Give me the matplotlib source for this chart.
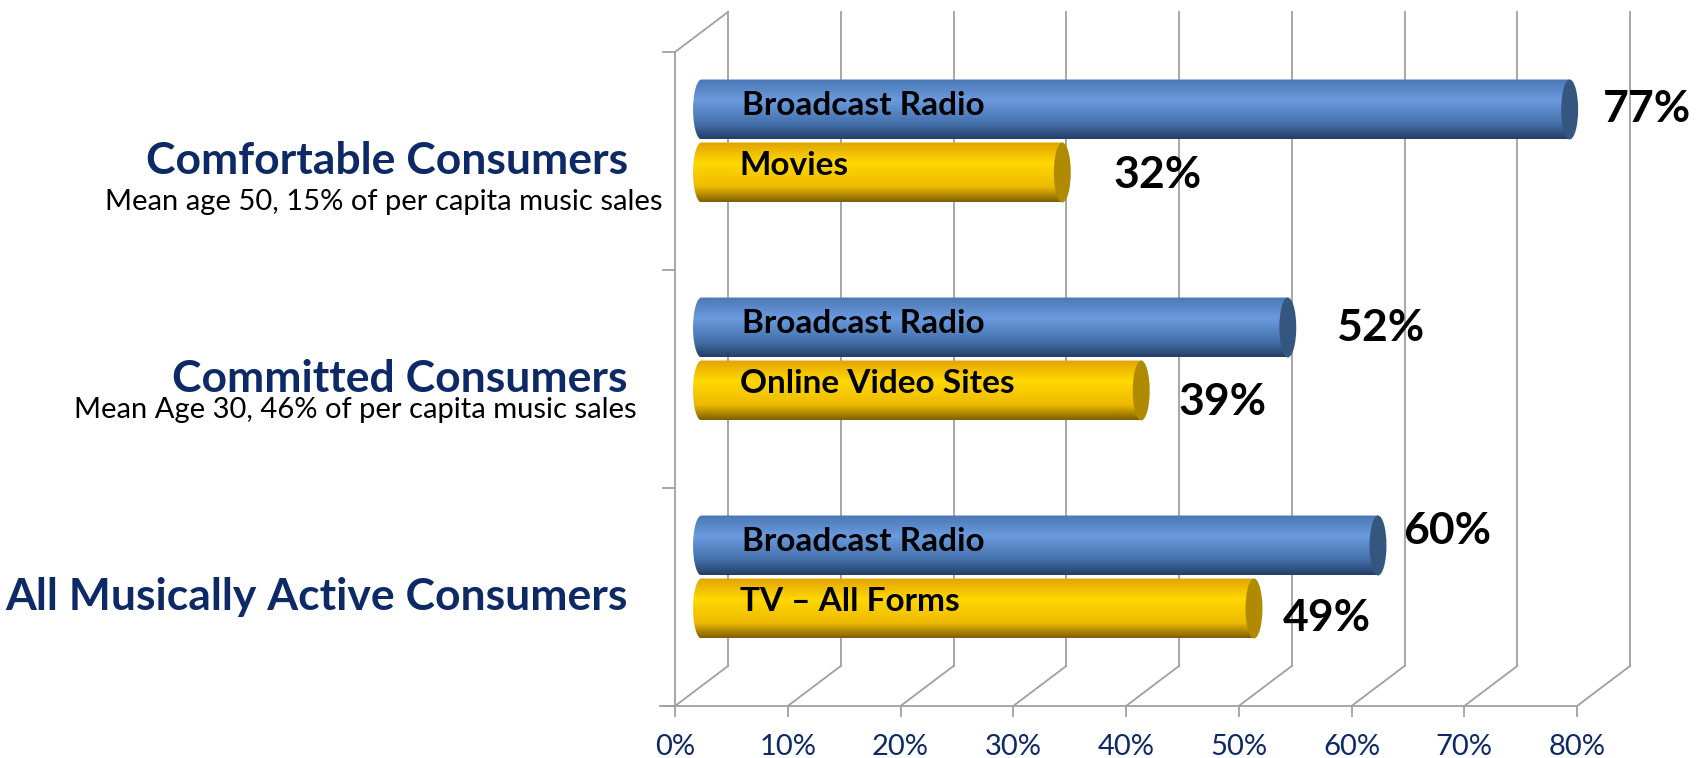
import numpy as np
import matplotlib.pyplot as plt
from matplotlib.patches import Polygon, Ellipse
from matplotlib.colors import to_rgb

# data (bottom group first)
groups = ['All Musically Active Consumers', 'Committed Consumers', 'Comfortable Consumers']
subtitles = ['', 'Mean Age 30, 46% of per capita music sales',
             'Mean age 50, 15% of per capita music sales']
radio = [60, 52, 77]
other = [49, 39, 32]
other_names = ['TV – All Forms', 'Online Video Sites', 'Movies']
ticks = [0, 10, 20, 30, 40, 50, 60, 70, 80]

plt.rcParams['font.family'] = ['Lato', 'DejaVu Sans']
navy = '#0E2A66'
grid = '#A0A0A0'

# pixel scale of the axes (px per % and px per group row)
PX = 11.275
PY = 218.0
DX = 53 / PX      # depth offset in x
DY = 40 / PY      # depth offset in y

fig = plt.figure(figsize=(16.98, 7.58), dpi=100)
ax = fig.add_axes([0, 0, 1, 1])
ax.set_xlim(-675 / PX, (1698 - 675) / PX)
ax.set_ylim(-52 / PY, 706 / PY)
ax.axis('off')

n = len(groups)
top = ticks[-1]

# walls and floor
for t in ticks:
    ax.plot([t + DX, t + DX], [DY, n + DY], color=grid, lw=1.3, zorder=1)
    ax.plot([t, t + DX], [0, DY], color=grid, lw=1.3, zorder=1)
    ax.plot([t, t], [0, -0.045], color=grid, lw=1.3, zorder=1)
    ax.text(t, -0.19, '%d%%' % t, ha='center', va='center', color=navy, fontsize=21)
ax.plot([-1.3, top], [0, 0], color=grid, lw=1.3, zorder=1)
ax.plot([0, 0], [0, n], color=grid, lw=1.3, zorder=1)
ax.plot([0, DX], [n, n + DY], color=grid, lw=1.3, zorder=1)
for i in range(n + 1):
    ax.plot([-1.1, 0], [i, i], color=grid, lw=1.3, zorder=1)


def gradient(stops, N=64):
    pos = np.array([s[0] for s in stops])
    cols = np.array([to_rgb(s[1]) for s in stops])
    p = np.linspace(0, 1, N)
    img = np.stack([np.interp(p, pos, cols[:, k]) for k in range(3)], axis=1)
    return img[:, None, :]


blue_stops = [(0, '#4B78B4'), (0.35, '#6A9BDE'), (0.75, '#4470AA'), (1, '#243F68')]
gold_stops = [(0, '#E2A400'), (0.35, '#FFD800'), (0.75, '#EDBA00'), (1, '#806000')]


def cylinder(x0, x1, yc, h, stops, cap):
    w = 1.5
    t = np.linspace(np.pi / 2, 3 * np.pi / 2, 40)
    left = np.column_stack([x0 + w / 2 * np.cos(t), yc + h / 2 * np.sin(t)])
    pts = np.vstack([[x1, yc + h / 2], left, [x1, yc - h / 2]])
    clip = Polygon(pts, closed=True, transform=ax.transData)
    im = ax.imshow(gradient(stops), extent=[x0 - w / 2, x1, yc - h / 2, yc + h / 2],
                   aspect='auto', origin='upper', interpolation='bilinear', zorder=3)
    im.set_clip_path(clip)
    ax.add_patch(Ellipse((x1, yc), w, h, facecolor=cap, edgecolor='none', zorder=4))


h = 0.275
half = 0.1445
mx, my = DX / 2, DY / 2
# label nudges (px) right of bar end / vertical
radio_nudge = [(25, 14), (48, -1), (33, 0)]
other_nudge = [(29, -9), (37, -11), (51, -2)]
sub_x = [0, -3.4, -1.1]
sub_y = [0, -0.14, -0.19]

for i in range(n):
    yb = i + 0.5 + my + half
    yy = i + 0.5 + my - half
    cylinder(mx, radio[i] + mx, yb, h, blue_stops, '#34567F')
    cylinder(mx, other[i] + mx, yy, h, gold_stops, '#B08A00')
    ax.text(mx + 3.6, yb + 0.02, 'Broadcast Radio', ha='left', va='center',
            fontsize=24, fontweight='bold', color='black', zorder=5)
    ax.text(mx + 3.4, yy + 0.03, other_names[i], ha='left', va='center',
            fontsize=24, fontweight='bold', color='black', zorder=5)
    dxp, dyp = radio_nudge[i]
    ax.text(radio[i] + mx + dxp / PX, yb + dyp / PY, '%d%%' % radio[i], ha='left',
            va='center', fontsize=32, fontweight='bold', color='black', zorder=5)
    dxp, dyp = other_nudge[i]
    ax.text(other[i] + mx + dxp / PX, yy + dyp / PY, '%d%%' % other[i], ha='left',
            va='center', fontsize=32, fontweight='bold', color='black', zorder=5)
    ax.text(-4.2, i + 0.5, groups[i], ha='right', va='center', fontsize=32,
            fontweight='bold', color=navy)
    if subtitles[i]:
        ax.text(sub_x[i], i + 0.5 + sub_y[i], subtitles[i], ha='right', va='center',
                fontsize=21, color='black')

fig.savefig('out.png', dpi=100)
